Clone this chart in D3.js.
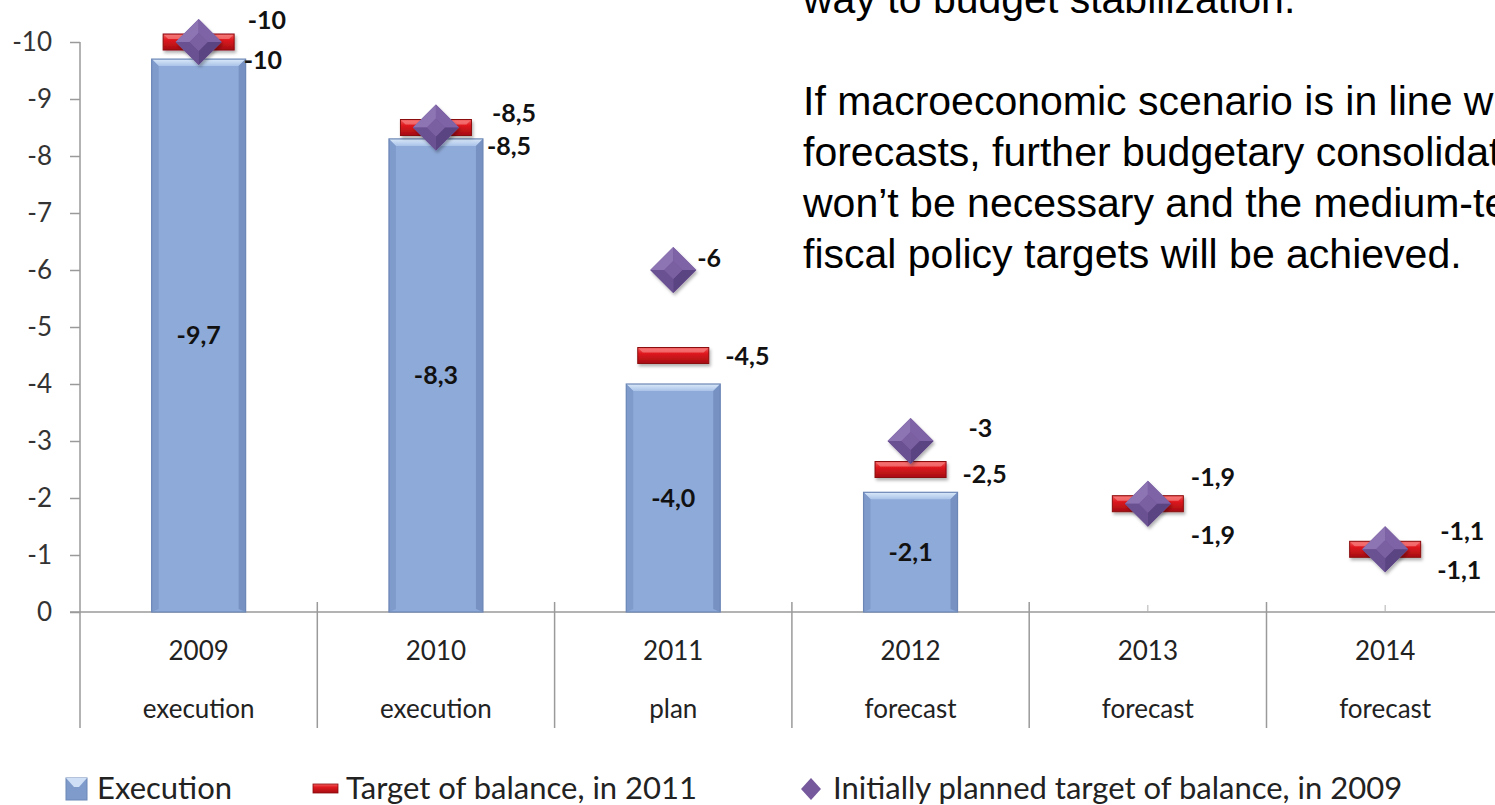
<!DOCTYPE html>
<html>
<head>
<meta charset="utf-8">
<script src="https://cdn.jsdelivr.net/npm/d3@7"></script>
<style>
  body { margin: 0; background: #fff; overflow: hidden; }
  svg { display: block; }
</style>
</head>
<body>
<div id="chart"></div>
<script>
// chart values
const years = ["2009", "2010", "2011", "2012", "2013", "2014"];
const stages = ["execution", "execution", "plan", "forecast", "forecast", "forecast"];
const execution = [-9.7, -8.3, -4.0, -2.1, null, null];
const target2011 = [-10, -8.5, -4.5, -2.5, -1.9, -1.1];
const planned2009 = [-10, -8.5, -6, -3, -1.9, -1.1];
const yTicks = [0, -1, -2, -3, -4, -5, -6, -7, -8, -9, -10];
const seriesNames = ["Execution", "Target of balance, in 2011", "Initially planned target of balance, in 2009"];
const noteLines = [
  "way to budget stabilization.",
  "",
  "If macroeconomic scenario is in line with",
  "forecasts, further budgetary consolidation",
  "won\u2019t be necessary and the medium-term",
  "fiscal policy targets will be achieved."
];

// label nudges (dx from category centre, dy from the mark) - layout only
const diamondLabelShift = [[49, -22], [56, -14], [24, -12], [58, -13], [43, -26], [55, -18]];
const targetLabelShift = [[45, 18], [51, 19], [52, 1], [52, 5], [43, 32], [52, 21]];

const W = 1495, H = 805;
const svg = d3.select('#chart').append('svg').attr('width', W).attr('height', H);

const defs = svg.append('defs');
const shadow = defs.append('filter').attr('id', 'shadow').attr('x', '-30%').attr('y', '-30%').attr('width', '160%').attr('height', '170%');
shadow.append('feDropShadow').attr('dx', 1.5).attr('dy', 2.5).attr('stdDeviation', 1.8)
  .attr('flood-color', '#000').attr('flood-opacity', 0.3);

const topGrad = defs.append('linearGradient').attr('id', 'barTop').attr('x1', 0).attr('y1', 0).attr('x2', 0).attr('y2', 1);
topGrad.append('stop').attr('offset', '0%').attr('stop-color', '#dbe9f9');
topGrad.append('stop').attr('offset', '100%').attr('stop-color', '#a9c3e8');

const redGrad = defs.append('linearGradient').attr('id', 'redDash').attr('x1', 0).attr('y1', 0).attr('x2', 0).attr('y2', 1);
redGrad.append('stop').attr('offset', '0%').attr('stop-color', '#f36060');
redGrad.append('stop').attr('offset', '35%').attr('stop-color', '#e01a20');
redGrad.append('stop').attr('offset', '100%').attr('stop-color', '#a50d12');

const x = d3.scaleBand().domain(years).range([80, 80 + 6 * 237.3]).padding(0);
const y = d3.scaleLinear().domain([0, -10]).range([612, 42]);
const cx = d => x(d) + x.bandwidth() / 2;
const fmt = v => String(v).replace('.', ',');
const fmt1 = v => v.toFixed(1).replace('.', ',');

const chartFont = 'Lato, "Open Sans", sans-serif';

// y axis
const yAxis = svg.append('g').attr('transform', 'translate(80,0)')
  .call(d3.axisLeft(y).tickValues(yTicks).tickSize(10).tickPadding(18).tickFormat(d => String(d)));
yAxis.select('.domain').remove();
yAxis.selectAll('.tick line').attr('stroke', '#9a9a9a').attr('stroke-width', 1.5);
yAxis.selectAll('.tick text').attr('font-family', chartFont).attr('font-size', 26).attr('fill', '#333');
svg.append('line').attr('x1', 80).attr('x2', 80).attr('y1', y(-10)).attr('y2', 728)
  .attr('stroke', '#9a9a9a').attr('stroke-width', 1.5);

// x axis baseline and small centre ticks
const xAxis = svg.append('g').attr('transform', `translate(0,${y(0)})`)
  .call(d3.axisBottom(x).tickSize(-7).tickFormat(''));
xAxis.select('.domain').attr('d', `M70,0H${W}`).attr('stroke', '#9a9a9a').attr('stroke-width', 1.5);
xAxis.selectAll('.tick line').attr('stroke', '#b0b0b0');

// category dividers
svg.append('g').selectAll('line').data(years.slice(1)).join('line')
  .attr('x1', d => x(d)).attr('x2', d => x(d))
  .attr('y1', y(0) - 10).attr('y2', 728)
  .attr('stroke', '#9a9a9a').attr('stroke-width', 1.5);

// category labels
const cat = svg.append('g').attr('font-family', chartFont).attr('fill', '#222').attr('text-anchor', 'middle');
cat.selectAll('text.year').data(years).join('text').attr('class', 'year')
  .attr('x', d => cx(d)).attr('y', 660).attr('font-size', 26).text(d => d);
cat.selectAll('text.stage').data(years).join('text').attr('class', 'stage')
  .attr('x', d => cx(d)).attr('y', 718).attr('font-size', 26).text((d, i) => stages[i]);

// execution bars with bevel
const bw = x.bandwidth() * 0.396;
const bev = 7;
const barData = years.map((yr, i) => ({ yr, v: execution[i] })).filter(d => d.v !== null);
const bars = svg.append('g').selectAll('g').data(barData).join('g')
  .attr('transform', d => `translate(${cx(d.yr) - bw / 2},${y(d.v)})`);
bars.append('rect').attr('width', bw).attr('height', d => y(0) - y(d.v)).attr('fill', '#8eaad8');
bars.append('polygon').attr('points', `0,0 ${bw},0 ${bw - bev},${bev} ${bev},${bev}`).attr('fill', 'url(#barTop)');
bars.append('polygon').attr('points', d => { const h = y(0) - y(d.v); return `0,0 ${bev},${bev} ${bev},${h - 3} 0,${h}`; })
  .attr('fill', '#7f9bcb');
bars.append('polygon').attr('points', d => { const h = y(0) - y(d.v); return `${bw},0 ${bw},${h} ${bw - bev},${h - 3} ${bw - bev},${bev}`; })
  .attr('fill', '#7792c2');
bars.append('rect').attr('width', bw).attr('height', d => y(0) - y(d.v))
  .attr('fill', 'none').attr('stroke', '#6c87b6').attr('stroke-width', 1.2);
bars.append('text').attr('x', bw / 2).attr('y', d => (y(0) - y(d.v)) / 2)
  .attr('dy', '0.35em').attr('text-anchor', 'middle')
  .attr('font-family', chartFont).attr('font-weight', 'bold').attr('font-size', 25).attr('fill', '#111')
  .text(d => fmt1(d.v));

// target 2011 dashes
const dashW = 71, dashH = 16;
const dashes = svg.append('g').selectAll('g').data(years).join('g')
  .attr('transform', (d, i) => `translate(${cx(d)},${y(target2011[i])})`);
dashes.append('rect').attr('x', -dashW / 2).attr('y', -dashH / 2).attr('width', dashW).attr('height', dashH)
  .attr('fill', 'url(#redDash)').attr('stroke', '#8c0a0e').attr('stroke-width', 1).attr('filter', 'url(#shadow)');
dashes.append('polygon')
  .attr('points', `${-dashW / 2 + 1},${-dashH / 2 + 1} ${dashW / 2 - 1},${-dashH / 2 + 1} ${dashW / 2 - 5},${-dashH / 2 + 5} ${-dashW / 2 + 5},${-dashH / 2 + 5}`)
  .attr('fill', '#f78080').attr('opacity', 0.7);

// planned 2009 diamonds
const r = 23, ri = 9;
const diamonds = svg.append('g').selectAll('g').data(years).join('g')
  .attr('transform', (d, i) => `translate(${cx(d)},${y(planned2009[i])})`);
diamonds.append('polygon').attr('points', `0,${-r} ${r},0 0,${r} ${-r},0`).attr('fill', '#76599c').attr('filter', 'url(#shadow)');
const facets = [
  { p: `0,${-r} ${-r},0 ${-ri},0 0,${-ri}`, c: '#8d74b3' },
  { p: `0,${-r} ${r},0 ${ri},0 0,${-ri}`, c: '#7e63a6' },
  { p: `${r},0 0,${r} 0,${ri} ${ri},0`, c: '#5b4482' },
  { p: `${-r},0 0,${r} 0,${ri} ${-ri},0`, c: '#6a5191' },
  { p: `0,${-ri} ${ri},0 0,${ri} ${-ri},0`, c: '#7a5fa1' }
];
facets.forEach(f => diamonds.append('polygon').attr('points', f.p).attr('fill', f.c));

// value labels for markers
const lab = svg.append('g').attr('font-family', chartFont).attr('font-weight', 'bold')
  .attr('font-size', 25).attr('fill', '#111');
lab.selectAll('text.dl').data(years).join('text').attr('class', 'dl')
  .attr('x', (d, i) => cx(d) + diamondLabelShift[i][0])
  .attr('y', (d, i) => y(planned2009[i]) + diamondLabelShift[i][1])
  .attr('dy', '0.35em').text((d, i) => fmt(planned2009[i]));
lab.selectAll('text.tl').data(years).join('text').attr('class', 'tl')
  .attr('x', (d, i) => cx(d) + targetLabelShift[i][0])
  .attr('y', (d, i) => y(target2011[i]) + targetLabelShift[i][1])
  .attr('dy', '0.35em').text((d, i) => fmt(target2011[i]));

// legend
const leg = svg.append('g').attr('font-family', chartFont).attr('font-size', 31).attr('fill', '#222');
const legY = 789;
const legX = [66, 313, 800];
const li0 = leg.append('g').attr('transform', `translate(${legX[0]},${legY - 11})`);
li0.append('rect').attr('width', 21).attr('height', 22).attr('fill', '#7f9bcb').attr('stroke', '#6c87b6');
li0.append('polygon').attr('points', '0,0 21,0 13,9 8,9').attr('fill', '#cfe0f6');
leg.append('text').attr('x', 97).attr('y', legY).attr('dy', '0.33em').text(seriesNames[0]);
leg.append('rect').attr('x', legX[1]).attr('y', legY - 5).attr('width', 25).attr('height', 9)
  .attr('fill', 'url(#redDash)').attr('stroke', '#8c0a0e').attr('stroke-width', 0.8);
leg.append('text').attr('x', 346).attr('y', legY).attr('dy', '0.33em').text(seriesNames[1]);
leg.append('polygon').attr('transform', `translate(811,${legY})`)
  .attr('points', '0,-11 10,0 0,11 -10,0').attr('fill', '#76599c');
leg.append('text').attr('x', 833).attr('y', legY).attr('dy', '0.33em').text(seriesNames[2]);

// slide text on the right
svg.append('g').attr('font-family', '"Liberation Sans", Arial, sans-serif').attr('font-size', 41).attr('fill', '#000')
  .selectAll('text').data(noteLines).join('text')
  .attr('x', 803).attr('y', (d, i) => 13 + i * 51).text(d => d);
</script>
</body>
</html>
